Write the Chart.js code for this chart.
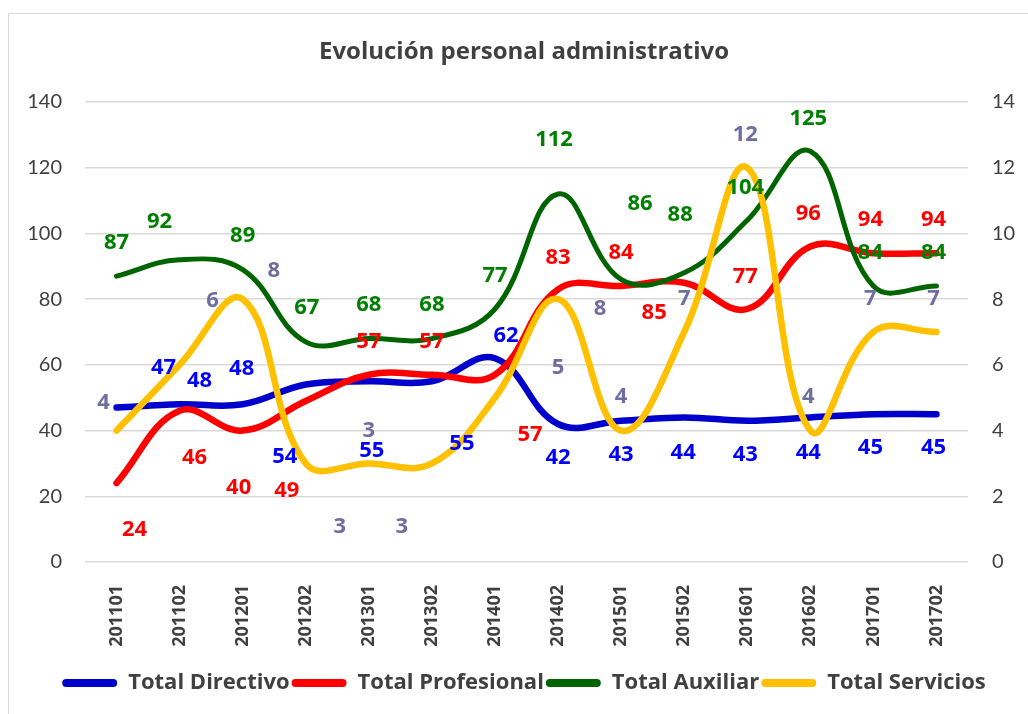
<!DOCTYPE html>
<html>
<head>
<meta charset="utf-8">
<script src="https://cdn.jsdelivr.net/npm/chart.js@4.4.1/dist/chart.umd.min.js"></script>
<style>
  html, body { margin: 0; padding: 0; background: #fff; }
  #frame { position: absolute; left: 8px; top: 13px; width: 1040px; height: 720px; border: 1.5px solid #d9d9d9; box-sizing: border-box; }
  #wrap { position: absolute; left: 0; top: 0; width: 1028px; height: 714px; }
</style>
</head>
<body>
<div id="frame"></div>
<div id="wrap"><canvas id="chart"></canvas></div>
<script>
'use strict';

// ── data ─────────────────────────────────────────────
const periodos = ['201101', '201102', '201201', '201202', '201301', '201302', '201401',
                  '201402', '201501', '201502', '201601', '201602', '201701', '201702'];

const totalDirectivo   = [47, 48, 48, 54, 55, 55, 62, 42, 43, 44, 43, 44, 45, 45];
const totalProfesional = [24, 46, 40, 49, 57, 57, 57, 83, 84, 85, 77, 96, 94, 94];
const totalAuxiliar    = [87, 92, 89, 67, 68, 68, 77, 112, 86, 88, 104, 125, 84, 84];
const totalServicios   = [4, 6, 8, 3, 3, 3, 5, 8, 4, 7, 12, 4, 7, 7];   // right axis

const ticksIzq = [0, 20, 40, 60, 80, 100, 120, 140];
const ticksDer = [0, 2, 4, 6, 8, 10, 12, 14];

// label nudges (px, relative to each point) – mimic the hand-placed Excel labels
const shiftDirectivo = [[47,-40],[20,-24],[-1,-36],[-21,72],[3,69],[30,62],[11,-23],
                        [0,34],[0,34],[-1,35],[-2,34],[-2,35],[-3,34],[-3,34]];
const shiftProfesional = [[18,47],[15,47],[-4,57],[-19,90],[0,-33],[0,-33],[35,60],
                          [0,-32],[0,-33],[-30,30],[-2,-32],[-2,-33],[-3,-33],[-3,-33]];
const shiftAuxiliar = [[0,-33],[-20,-38],[0,-34],[1,-34],[0,-34],[0,-34],[0,-33],
                       [-4,-54],[19,-76],[-4,-58],[-2,-33],[-2,-33],[-3,-33],[-3,-33]];
const shiftServicios = [[-13,-28],[33,-64],[31,-28],[34,63],[0,-33],[-30,63],[63,-30],
                        [42,10],[0,-34],[0,-33],[-2,-33],[-2,-34],[-3,-33],[-3,-33]];

const FONT = 'Lato';
const BOLD = '"Open Sans"';
const TXT = '#404040';
const GRID = '#d9d9d9';

// ── value labels plugin ──────────────────────────────
const valueLabels = {
  id: 'valueLabels',
  afterDatasetsDraw(chart) {
    const ctx = chart.ctx;
    ctx.save();
    ctx.font = `bold 22px ${BOLD}`;
    ctx.textAlign = 'center';
    ctx.textBaseline = 'middle';
    chart.data.datasets.forEach((ds, i) => {
      const meta = chart.getDatasetMeta(i);
      meta.data.forEach((pt, j) => {
        const [dx, dy] = ds.labelShift[j];
        ctx.fillStyle = ds.labelColor;
        ctx.fillText(String(ds.data[j]), pt.x + dx, pt.y + dy);
      });
    });
    ctx.restore();
  },
};

const serie = (label, data, color, labelColor, width, order, axis, shift) => ({
  label, data, yAxisID: axis,
  borderColor: color, backgroundColor: color, borderWidth: width,
  borderCapStyle: 'round', borderJoinStyle: 'round',
  pointRadius: 0, pointHoverRadius: 0, tension: 0.4, fill: false,
  order, labelColor, labelShift: shift,
});

const ctx = document.getElementById('chart').getContext('2d');
new Chart(ctx, {
  type: 'line',
  data: {
    labels: periodos,
    datasets: [
      serie('Total Directivo',   totalDirectivo,   '#0000CC', '#0000FF', 6.5, 4, 'y',  shiftDirectivo),
      serie('Total Profesional', totalProfesional, '#FF0000', '#FF0000', 6.5, 3, 'y',  shiftProfesional),
      serie('Total Auxiliar',    totalAuxiliar,    '#006400', '#008000', 5,   2, 'y',  shiftAuxiliar),
      serie('Total Servicios',   totalServicios,   '#FFC000', '#6E6EA0', 6.5, 1, 'y2', shiftServicios),
    ],
  },
  options: {
    responsive: true,
    maintainAspectRatio: false,
    animation: false,
    events: [],
    layout: { padding: { left: 20, right: 0, top: 0, bottom: 10 } },
    plugins: {
      title: {
        display: true,
        text: 'Evolución personal administrativo',
        color: TXT,
        font: { family: BOLD, size: 24, weight: 'bold' },
        padding: { top: 37.6, bottom: 35.6 },
      },
      legend: {
        display: true,
        position: 'bottom',
        labels: {
          color: TXT,
          font: { family: BOLD, size: 22, weight: 'bold' },
          boxWidth: 55, boxHeight: 8, padding: 2,
          useBorderRadius: true, borderRadius: 4,
          sort: (a, b) => a.datasetIndex - b.datasetIndex,
          generateLabels(chart) {
            const items = Chart.defaults.plugins.legend.labels.generateLabels(chart);
            items.forEach(it => { it.lineWidth = 0; it.fillStyle = it.strokeStyle; });
            return items;
          },
        },
      },
      tooltip: { enabled: false },
    },
    scales: {
      x: {
        offset: true,
        grid: { display: false },
        border: { display: false },
        ticks: {
          color: TXT, font: { family: BOLD, size: 18, weight: 'bold' },
          minRotation: 90, maxRotation: 90, autoSkip: false, padding: 15,
        },
        afterFit: s => { s.height = 108; },
      },
      y: {
        position: 'left', min: 0, max: 140,
        afterBuildTicks: s => { s.ticks = ticksIzq.map(v => ({ value: v })); },
        grid: { color: GRID, lineWidth: 1.5, drawTicks: false },
        border: { display: false },
        ticks: { color: TXT, font: { family: FONT, size: 20 }, padding: 23 },
        afterFit: s => { s.width = 65; },
      },
      y2: {
        position: 'right', min: 0, max: 14,
        afterBuildTicks: s => { s.ticks = ticksDer.map(v => ({ value: v })); },
        grid: { display: false, drawTicks: false },
        border: { display: false },
        ticks: { color: TXT, font: { family: FONT, size: 20 }, padding: 24 },
        afterFit: s => { s.width = 60; },
      },
    },
  },
  plugins: [valueLabels],
});
</script>
</body>
</html>
